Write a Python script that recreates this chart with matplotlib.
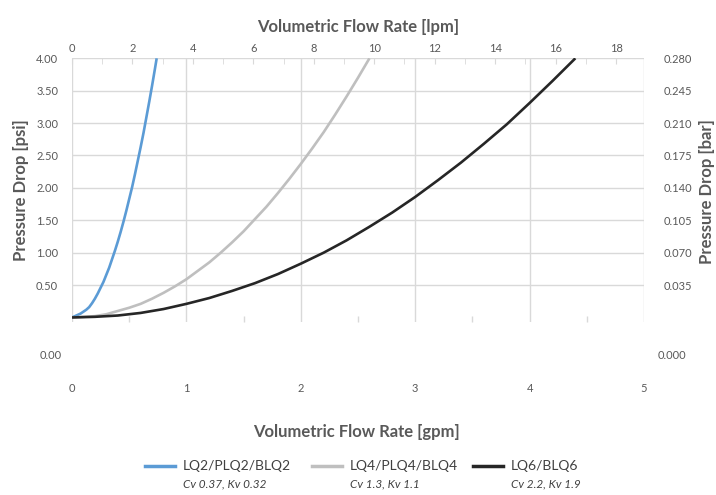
import matplotlib
matplotlib.use("Agg")
import matplotlib.pyplot as plt
from matplotlib.lines import Line2D

plt.rcParams['font.family'] = ['Lato', 'DejaVu Sans']

# values (gpm, psi)
lq2_gpm = [0, 0.025, 0.05, 0.075, 0.10, 0.125, 0.15, 0.175, 0.20, 0.225, 0.25, 0.275, 0.30,
           0.325, 0.35, 0.375, 0.40, 0.425, 0.45, 0.475, 0.50, 0.525, 0.55, 0.575, 0.60,
           0.625, 0.65, 0.675, 0.70, 0.725, 0.74]
lq2_psi = [0.0, 0.02, 0.04, 0.06, 0.09, 0.12, 0.16, 0.22, 0.29, 0.37, 0.46, 0.55, 0.66,
           0.77, 0.90, 1.03, 1.17, 1.32, 1.48, 1.65, 1.83, 2.01, 2.21, 2.42, 2.63,
           2.85, 3.09, 3.33, 3.58, 3.84, 4.00]
lq4_gpm = [0, 0.1, 0.2, 0.3, 0.4, 0.5, 0.6, 0.7, 0.8, 0.9, 1.0, 1.1, 1.2, 1.3, 1.4,
           1.5, 1.6, 1.7, 1.8, 1.9, 2.0, 2.1, 2.2, 2.3, 2.4, 2.5, 2.6]
lq4_psi = [0.0, 0.01, 0.02, 0.05, 0.10, 0.15, 0.21, 0.29, 0.38, 0.48, 0.59, 0.72, 0.85, 1.00, 1.16,
           1.33, 1.52, 1.71, 1.92, 2.14, 2.37, 2.61, 2.86, 3.13, 3.41, 3.70, 4.00]
lq6_gpm = [0, 0.2, 0.4, 0.6, 0.8, 1.0, 1.2, 1.4, 1.6, 1.8, 2.0, 2.2, 2.4, 2.6, 2.8,
           3.0, 3.2, 3.4, 3.6, 3.8, 4.0, 4.2, 4.4]
lq6_psi = [0.0, 0.01, 0.03, 0.07, 0.13, 0.21, 0.30, 0.41, 0.53, 0.67, 0.83, 1.00, 1.19, 1.40, 1.62,
           1.86, 2.12, 2.39, 2.68, 2.98, 3.31, 3.65, 4.00]

names = ['LQ2/PLQ2/BLQ2', 'LQ4/PLQ4/BLQ4', 'LQ6/BLQ6']
coeffs = ['Cv 0.37, Kv 0.32', 'Cv 1.3, Kv 1.1', 'Cv 2.2, Kv 1.9']
colors = ['#5B9BD5', '#BFBFBF', '#262626']

psi_ticks = [0.5, 1.0, 1.5, 2.0, 2.5, 3.0, 3.5, 4.0]
bar_ticks = [0.035, 0.070, 0.105, 0.140, 0.175, 0.210, 0.245, 0.280]
gpm_ticks = [0, 1, 2, 3, 4, 5]
lpm_ticks = [0, 2, 4, 6, 8, 10, 12, 14, 16, 18]

txt = '#595959'
grid = '#D9D9D9'
LPM_PER_GPM = 3.785

fig = plt.figure(figsize=(7.16, 4.95), dpi=100)
ax = fig.add_axes([0.1006, 0.3495, 0.7988, 0.5327])

for x, y, c in zip([lq2_gpm, lq4_gpm, lq6_gpm], [lq2_psi, lq4_psi, lq6_psi], colors):
    ax.plot(x, y, color=c, lw=1.9, solid_capstyle='butt', solid_joinstyle='round', zorder=3)

ax.set_xlim(0, 5)
ax.set_ylim(-0.07, 4.0)
for s in ax.spines.values():
    s.set_visible(False)

ax.set_yticks(psi_ticks)
ax.set_yticklabels([f'{v:.2f}' for v in psi_ticks])
ax.set_xticks(gpm_ticks)
ax.set_xticklabels([str(v) for v in gpm_ticks])
ax.set_xticks([0.5, 1.5, 2.5, 3.5, 4.5], minor=True)
ax.tick_params(axis='y', length=0, pad=10, labelsize=8, labelcolor=txt)
ax.tick_params(axis='x', which='major', length=0, pad=44, labelsize=8, labelcolor=txt)
ax.tick_params(axis='x', which='minor', direction='in', length=4, color=grid, width=1)
for v in psi_ticks:
    ax.axhline(v, color=grid, lw=1, zorder=1)
for v in gpm_ticks:
    ax.axvline(v, color=grid, lw=1, zorder=1)

# top lpm axis
top = ax.twiny()
top.set_xlim(0, 5 * LPM_PER_GPM)
for s in top.spines.values():
    s.set_visible(False)
top.set_xticks(lpm_ticks)
top.set_xticklabels([str(v) for v in lpm_ticks])
top.set_xticks(range(1, 19, 2), minor=True)
top.tick_params(axis='x', which='major', direction='in', length=4, color=grid, pad=3,
                labelsize=8, labelcolor=txt)
top.tick_params(axis='x', which='minor', direction='in', length=4, color=grid)
top.set_xlabel('Volumetric Flow Rate [lpm]', fontsize=12, fontweight='bold', color=txt, labelpad=8)

# right bar axis
right = ax.twinx()
right.set_ylim(-0.07 * 0.07, 0.280)
for s in right.spines.values():
    s.set_visible(False)
right.set_yticks(bar_ticks)
right.set_yticklabels([f'{v:.3f}' for v in bar_ticks])
right.tick_params(axis='y', length=0, pad=14, labelsize=8, labelcolor=txt)

# zero labels sit below the grid as in the reference
ax.text(-0.0175, -0.59, '0.00', transform=ax.get_yaxis_transform(), ha='right', va='center',
        fontsize=8, color=txt)
ax.text(1.0245, -0.59, '0.000', transform=ax.get_yaxis_transform(), ha='left', va='center',
        fontsize=8, color=txt)

fig.text(0.030, 0.615, 'Pressure Drop [psi]', rotation=90, ha='center', va='center',
         fontsize=12, fontweight='bold', color=txt)
fig.text(0.988, 0.612, 'Pressure Drop [bar]', rotation=90, ha='center', va='center',
         fontsize=12, fontweight='bold', color=txt)
fig.text(0.498, 0.127, 'Volumetric Flow Rate [gpm]', ha='center', va='center',
         fontsize=12, fontweight='bold', color=txt)

# legend
line_x = [145, 312, 473]
for lx, n, cf, c in zip(line_x, names, coeffs, colors):
    fig.add_artist(Line2D([lx / 716, (lx + 30) / 716], [1 - 466 / 495] * 2, color=c, lw=2.5))
    fig.text((lx + 38) / 716, 1 - 466 / 495, n, ha='left', va='center', fontsize=10, color='#404040')
    fig.text((lx + 38) / 716, 1 - 484 / 495, cf, ha='left', va='center', fontsize=8.5,
             style='italic', color='#404040')

fig.savefig('out.png', dpi=100)
